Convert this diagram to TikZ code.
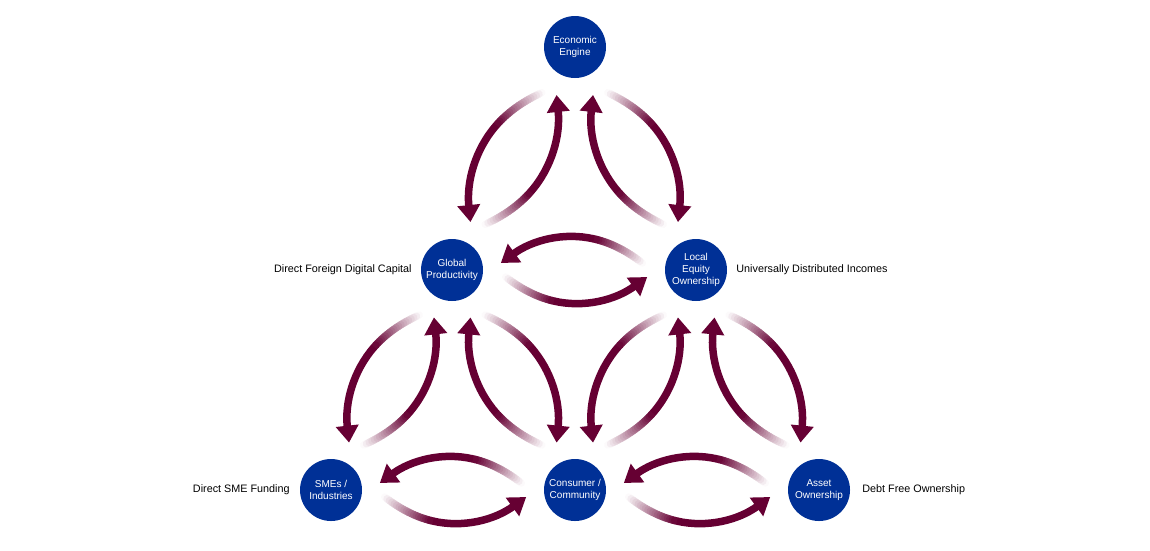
\documentclass[tikz,border=0pt]{standalone}
\usepackage{fontspec}
\setmainfont{Liberation Sans}
\usetikzlibrary{calc,arrows.meta}
\definecolor{arrowc}{RGB}{102,0,51}
\definecolor{nodeblue}{RGB}{0,48,150}
\tikzset{
  hub/.style={circle, fill=nodeblue, draw=none, minimum size=62pt, inner sep=0pt, text=white, align=center, font=\fontsize{10}{12}\selectfont},
  sidelabel/.style={font=\fontsize{10.8}{13}\selectfont, text=black, inner sep=0pt},
  fadeseg/.style={line width=7.5pt, line cap=round},
  solidarrow/.style={line width=7.5pt, draw=arrowc, -{Triangle[width=22pt,length=17pt]}},
}
\newcommand\flowarrow[3]{%
  \coordinate (T) at ($(#1.center)!0.22!(#2.center)!7pt!#3:(#2.center)$);
  \coordinate (C) at ($(#1.center)!0.5!(#2.center)!60pt!#3:(#2.center)$);
  \coordinate (H) at ($(#1.center)!0.8!(#2.center)!7pt!#3:(#2.center)$);
  \foreach \ii in {0,...,20}{
    \pgfmathsetmacro\tv{0.35*\ii/20}
    \coordinate (pa) at ($(T)!\tv!(C)$);
    \coordinate (pb) at ($(C)!\tv!(H)$);
    \coordinate (f\ii) at ($(pa)!\tv!(pb)$);
  }
  \foreach \ii in {0,...,19}{
    \pgfmathtruncatemacro\jj{\ii+1}
    \pgfmathtruncatemacro\pp{5*\ii+2}
    \draw[fadeseg, draw=arrowc!\pp!white] (f\ii) -- (f\jj);
  }
  \coordinate (Cs) at ($(C)!0.35!(H)$);
  \coordinate (ca) at ($(f20)!2/3!(Cs)$);
  \coordinate (cb) at ($(H)!2/3!(Cs)$);
  \draw[solidarrow] (f20) .. controls (ca) and (cb) .. (H);
}
\begin{document}
\begin{tikzpicture}[x=1pt,y=1pt]
\useasboundingbox (0,0) rectangle (1150,-550);
\node[hub] (ee) at (575,-47) {Economic\\Engine};
\node[hub] (gp) at (452,-270) {Global\\Productivity};
\node[hub] (le) at (696,-270) {Local\\Equity\\Ownership};
\node[hub] (sm) at (331,-490) {SMEs /\\Industries};
\node[hub] (cc) at (575,-490) {Consumer /\\Community};
\node[hub] (ao) at (819,-490) {Asset\\Ownership};

\node[sidelabel, anchor=east] (l1) at ($(gp.west)+(-9,0)$) {Direct Foreign Digital Capital};
\node[sidelabel, anchor=west] (l2) at ($(le.east)+(9,0)$) {Universally Distributed Incomes};
\node[sidelabel, anchor=east] (l3) at ($(sm.west)+(-10,0)$) {Direct SME Funding};
\node[sidelabel, anchor=west] (l4) at ($(ao.east)+(12,0)$) {Debt Free Ownership};

% left-leaning pairs
\flowarrow{ee}{gp}{-90}
\flowarrow{gp}{ee}{-90}
\flowarrow{gp}{sm}{-90}
\flowarrow{sm}{gp}{-90}
\flowarrow{le}{cc}{-90}
\flowarrow{cc}{le}{-90}
% right-leaning pairs
\flowarrow{ee}{le}{90}
\flowarrow{le}{ee}{90}
\flowarrow{gp}{cc}{90}
\flowarrow{cc}{gp}{90}
\flowarrow{le}{ao}{90}
\flowarrow{ao}{le}{90}
% horizontal pairs
\flowarrow{gp}{le}{-90}
\flowarrow{le}{gp}{-90}
\flowarrow{sm}{cc}{-90}
\flowarrow{cc}{sm}{-90}
\flowarrow{cc}{ao}{-90}
\flowarrow{ao}{cc}{-90}
\end{tikzpicture}
\end{document}
